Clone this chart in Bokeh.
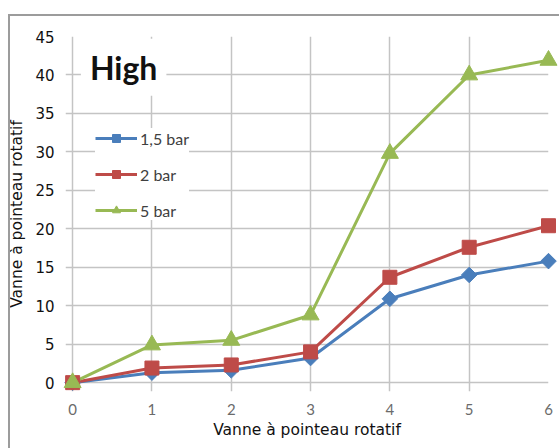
from bokeh.plotting import figure
from bokeh.models import Range1d, Label, Legend, LegendItem, FixedTicker, InlineStyleSheet
from bokeh.embed import file_html
from bokeh.resources import INLINE
import math

# Data
x_vals = [0, 1, 2, 3, 4, 5, 6]
bar_1_5 = [0.0, 1.3, 1.6, 3.2, 10.9, 14.0, 15.8]
bar_2 = [0.0, 1.9, 2.3, 4.0, 13.7, 17.6, 20.4]
bar_5 = [0.0, 4.9, 5.5, 8.8, 29.8, 40.0, 41.9]
series_labels = ["1,5 bar", "2 bar", "5 bar"]
x_ticks = [0, 1, 2, 3, 4, 5, 6]
y_ticks = [0, 5, 10, 15, 20, 25, 30, 35, 40, 45]
axis_title = "Vanne à pointeau rotatif"
chart_label = "High"

blue = "#4A7EBB"
red = "#BE4B48"
green = "#98B954"

p = figure(width=559, height=448, output_backend="svg", toolbar_location=None,
           x_range=Range1d(-0.09, 6), y_range=Range1d(-1.15, 45),
           min_border_left=65, min_border_right=11, min_border_top=36, min_border_bottom=57)
p.outline_line_color = None
p.background_fill_color = "white"
p.border_fill_color = "white"

# grids
for g in (p.xgrid, p.ygrid):
    g.grid_line_color = "#c4c4c4"
    g.grid_line_width = 1.5
p.xgrid.ticker = FixedTicker(ticks=x_ticks)
p.ygrid.ticker = FixedTicker(ticks=y_ticks)

# axes
p.xaxis.ticker = FixedTicker(ticks=x_ticks)
p.yaxis.ticker = FixedTicker(ticks=y_ticks)
for ax in (p.xaxis[0], p.yaxis[0]):
    ax.axis_line_color = None
    ax.major_tick_line_color = None
    ax.minor_tick_line_color = None
    ax.axis_label = axis_title
    ax.axis_label_text_font = "DejaVu Sans"
    ax.axis_label_text_font_size = "15.5px"
    ax.axis_label_text_font_style = "normal"
    ax.axis_label_text_color = "#111111"

p.xaxis.major_label_text_font = "Lato"
p.xaxis.major_label_text_font_size = "15px"
p.xaxis.major_label_text_color = "#6b6b6b"
p.xaxis.major_label_standoff = 6
p.xaxis.axis_label_standoff = 3

p.yaxis.major_label_text_font = "DejaVu Sans"
p.yaxis.major_label_text_font_size = "15px"
p.yaxis.major_label_text_color = "#111111"
p.yaxis.major_label_standoff = 5
p.yaxis.axis_label_standoff = 6

# series
l1 = p.line(x_vals, bar_1_5, line_color=blue, line_width=3)
s1 = p.scatter(x_vals, bar_1_5, marker="square", angle=math.pi / 4, size=11,
               fill_color=blue, line_color=blue, level="overlay")
l2 = p.line(x_vals, bar_2, line_color=red, line_width=3)
s2 = p.scatter(x_vals, bar_2, marker="square", size=14,
               fill_color=red, line_color=red, level="overlay")
l3 = p.line(x_vals, bar_5, line_color=green, line_width=3)
s3 = p.scatter(x_vals, bar_5, marker="triangle", size=17,
               fill_color=green, line_color=green, level="overlay")

legend = Legend(items=[
    LegendItem(label=series_labels[0], renderers=[l1, s1]),
    LegendItem(label=series_labels[1], renderers=[l2, s2]),
    LegendItem(label=series_labels[2], renderers=[l3, s3]),
], location=(30, 171))
legend.border_line_color = None
legend.background_fill_color = "white"
legend.background_fill_alpha = 1
legend.padding = 10
legend.spacing = 16
legend.glyph_height = 20
legend.glyph_width = 42
legend.label_standoff = 3
legend.label_text_font = "Lato"
legend.label_text_font_size = "16px"
legend.label_text_color = "#404040"
legend.label_height = 20
p.add_layout(legend, "center")

lab = Label(x=0.104, y=41.0, text=chart_label, text_font="Lato", text_font_style="bold",
            text_font_size="32px", text_color="#111111", text_baseline="middle",
            background_fill_color="white", background_fill_alpha=1, padding=9)
p.add_layout(lab)

# outer chart border (left and top edges visible), drawn by CSS over the canvas
p.stylesheets = [InlineStyleSheet(css="""
:host { position: relative; }
:host::after {
  content: "";
  position: absolute;
  left: 8px; top: 14px; width: 600px; height: 500px;
  border-left: 2px solid #9c9c9c;
  border-top: 2px solid #9c9c9c;
  pointer-events: none;
  z-index: 100;
}
""")]

open("out.html", "w").write(file_html(p, INLINE))
